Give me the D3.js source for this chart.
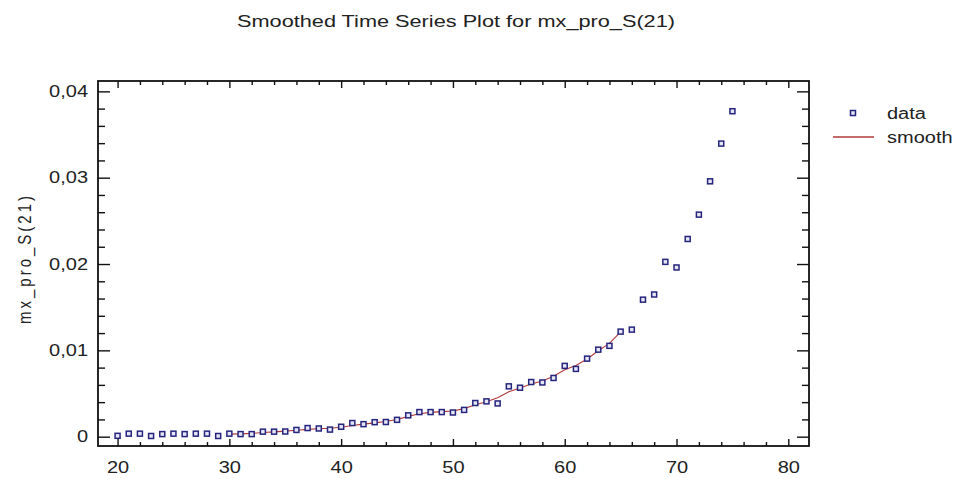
<!DOCTYPE html>
<html>
<head>
<meta charset="utf-8">
<script src="https://cdn.jsdelivr.net/npm/d3@7/dist/d3.min.js"></script>
<style>
  html, body { margin: 0; padding: 0; background: #fff; }
  svg { display: block; font-family: "Liberation Sans", Arial, sans-serif; }
</style>
</head>
<body>
<svg id="chart" width="965" height="479"></svg>
<script>
// ---- data ----
const titleText = "Smoothed Time Series Plot for mx_pro_S(21)";
const yTitle = "mx_pro_S(21)";
const legendLabels = ["data", "smooth"];

const ages = [20,21,22,23,24,25,26,27,28,29,30,31,32,33,34,35,36,37,38,39,40,41,42,43,44,45,46,47,48,49,50,51,52,53,54,55,56,57,58,59,60,61,62,63,64,65,66,67,68,69,70,71,72,73,74,75];
const dataValues = [0.00010,0.00035,0.00035,0.00008,0.00030,0.00035,0.00030,0.00035,0.00035,0.00008,
  0.00035,0.00030,0.00030,0.00058,0.00058,0.00060,0.00078,0.00100,0.00095,0.00082,
  0.00115,0.00158,0.00145,0.00168,0.00170,0.00195,0.00247,0.00285,0.00285,0.00285,
  0.00280,0.00310,0.00390,0.00409,0.00385,0.00583,0.00567,0.00633,0.00628,0.00680,
  0.00820,0.00785,0.00904,0.01008,0.01052,0.01217,0.01240,0.01587,0.01647,0.02025,
  0.01960,0.02290,0.02572,0.02958,0.03395,0.03770];

const smoothAges = [30,31,32,33,34,35,36,37,38,39,40,41,42,43,44,45,46,47,48,49,50,51,52,53,54,55,56,57,58,59,60,61,62,63,64,65];
const smoothValues = [0.00030,0.00033,0.00038,0.00048,0.00056,0.00064,0.00074,0.00085,0.00092,0.00098,
  0.00110,0.00130,0.00145,0.00160,0.00175,0.00198,0.00235,0.00265,0.00282,0.00290,
  0.00298,0.00325,0.00370,0.00405,0.00450,0.00520,0.00565,0.00610,0.00645,0.00700,
  0.00775,0.00825,0.00900,0.00995,0.01080,0.01215];

const xMajorTicks = [20,30,40,50,60,70,80];
const xMinorTicks = [22,24,26,28,32,34,36,38,42,44,46,48,52,54,56,58,62,64,66,68,72,74,76,78];
const yMajorTicks = [0,0.01,0.02,0.03,0.04];
const yMinorTicks = [0.002,0.004,0.006,0.008,0.012,0.014,0.016,0.018,0.022,0.024,0.026,0.028,0.032,0.034,0.036,0.038];

// ---- layout ----
const L = 98, R = 809, T = 81, B = 446;
const SX = 1.25; // horizontal glyph stretch seen in the reference
const textColor = "#222";
const dataColor = "#25257e";
const smoothColor = "#b03a3a";

const svg = d3.select("#chart");
const x = d3.scaleLinear().domain([18.25, 81.85]).range([L, R]);
const y = d3.scaleLinear().domain([-0.00108, 0.0412]).range([B, T]);

const fmtY = v => v === 0 ? "0" : d3.format(".2f")(v).replace(".", ",");

function styleAxis(g) {
  g.select(".domain").remove();
  g.selectAll(".tick line").attr("stroke", "#111").attr("stroke-width", 1.4);
}

// minor ticks
svg.append("g").attr("transform", `translate(${L},0)`)
  .call(d3.axisLeft(y).tickValues(yMinorTicks).tickSize(-7).tickFormat(""))
  .call(styleAxis);
svg.append("g").attr("transform", `translate(${R},0)`)
  .call(d3.axisRight(y).tickValues(yMinorTicks).tickSize(-7).tickFormat(""))
  .call(styleAxis);
svg.append("g").attr("transform", `translate(0,${B})`)
  .call(d3.axisBottom(x).tickValues(xMinorTicks).tickSize(-4).tickFormat(""))
  .call(styleAxis);
svg.append("g").attr("transform", `translate(0,${T})`)
  .call(d3.axisTop(x).tickValues(xMinorTicks).tickSize(-4).tickFormat(""))
  .call(styleAxis);

// major ticks
const gyL = svg.append("g").attr("transform", `translate(${L},0)`)
  .call(d3.axisLeft(y).tickValues(yMajorTicks).tickSize(-12).tickPadding(10).tickFormat(fmtY))
  .call(styleAxis);
gyL.selectAll(".tick text")
  .attr("x", -10 / SX)
  .attr("transform", `scale(${SX},1)`)
  .attr("fill", textColor).style("font-size", "16px").style("font-family", "Liberation Sans, Arial, sans-serif");

svg.append("g").attr("transform", `translate(${R},0)`)
  .call(d3.axisRight(y).tickValues(yMajorTicks).tickSize(-12).tickFormat(""))
  .call(styleAxis);

const gxB = svg.append("g").attr("transform", `translate(0,${B})`)
  .call(d3.axisBottom(x).tickValues(xMajorTicks).tickSize(-7).tickPadding(16).tickFormat(d3.format("d")))
  .call(styleAxis);
gxB.selectAll(".tick text")
  .attr("transform", `scale(${SX},1)`)
  .attr("fill", textColor).style("font-size", "16px").style("font-family", "Liberation Sans, Arial, sans-serif");

svg.append("g").attr("transform", `translate(0,${T})`)
  .call(d3.axisTop(x).tickValues(xMajorTicks).tickSize(-7).tickFormat(""))
  .call(styleAxis);

// frame
svg.append("rect")
  .attr("x", L).attr("y", T).attr("width", R - L).attr("height", B - T)
  .attr("fill", "none").attr("stroke", "#111").attr("stroke-width", 1.8);

// smooth line
const line = d3.line().x(d => x(d[0])).y(d => y(d[1]));
svg.append("path")
  .datum(d3.zip(smoothAges, smoothValues))
  .attr("d", line)
  .attr("fill", "none").attr("stroke", smoothColor).attr("stroke-width", 1.1);

// data markers
const ms = 5;
svg.append("g").selectAll("rect")
  .data(d3.zip(ages, dataValues))
  .join("rect")
  .attr("x", d => x(d[0]) - ms / 2)
  .attr("y", d => y(d[1]) - ms / 2)
  .attr("width", ms).attr("height", ms)
  .attr("fill", "#e6e6f6").attr("stroke", dataColor).attr("stroke-width", 1.5);

// title
svg.append("text")
  .attr("x", 456).attr("y", 27)
  .attr("text-anchor", "middle")
  .attr("textLength", 438).attr("lengthAdjust", "spacingAndGlyphs")
  .attr("fill", textColor).style("font-size", "16px")
  .text(titleText);

// y axis title
svg.append("text")
  .attr("transform", `translate(31,260) scale(${SX},1) rotate(-90)`)
  .attr("text-anchor", "middle")
  .attr("textLength", 128).attr("lengthAdjust", "spacing")
  .attr("fill", textColor).style("font-size", "15px")
  .text(yTitle);

// legend
const lg = svg.append("g");
lg.append("rect").attr("x", 853 - ms / 2).attr("y", 113 - ms / 2).attr("width", ms).attr("height", ms)
  .attr("fill", "#e6e6f6").attr("stroke", dataColor).attr("stroke-width", 1.5);
lg.append("line").attr("x1", 833).attr("x2", 874).attr("y1", 137).attr("y2", 137)
  .attr("stroke", smoothColor).attr("stroke-width", 1.3);
lg.append("text").attr("transform", `translate(887,119) scale(${SX},1)`)
  .attr("fill", textColor).style("font-size", "16px").text(legendLabels[0]);
lg.append("text").attr("transform", `translate(887,143) scale(${SX},1)`)
  .attr("fill", textColor).style("font-size", "16px").text(legendLabels[1]);
</script>
</body>
</html>
